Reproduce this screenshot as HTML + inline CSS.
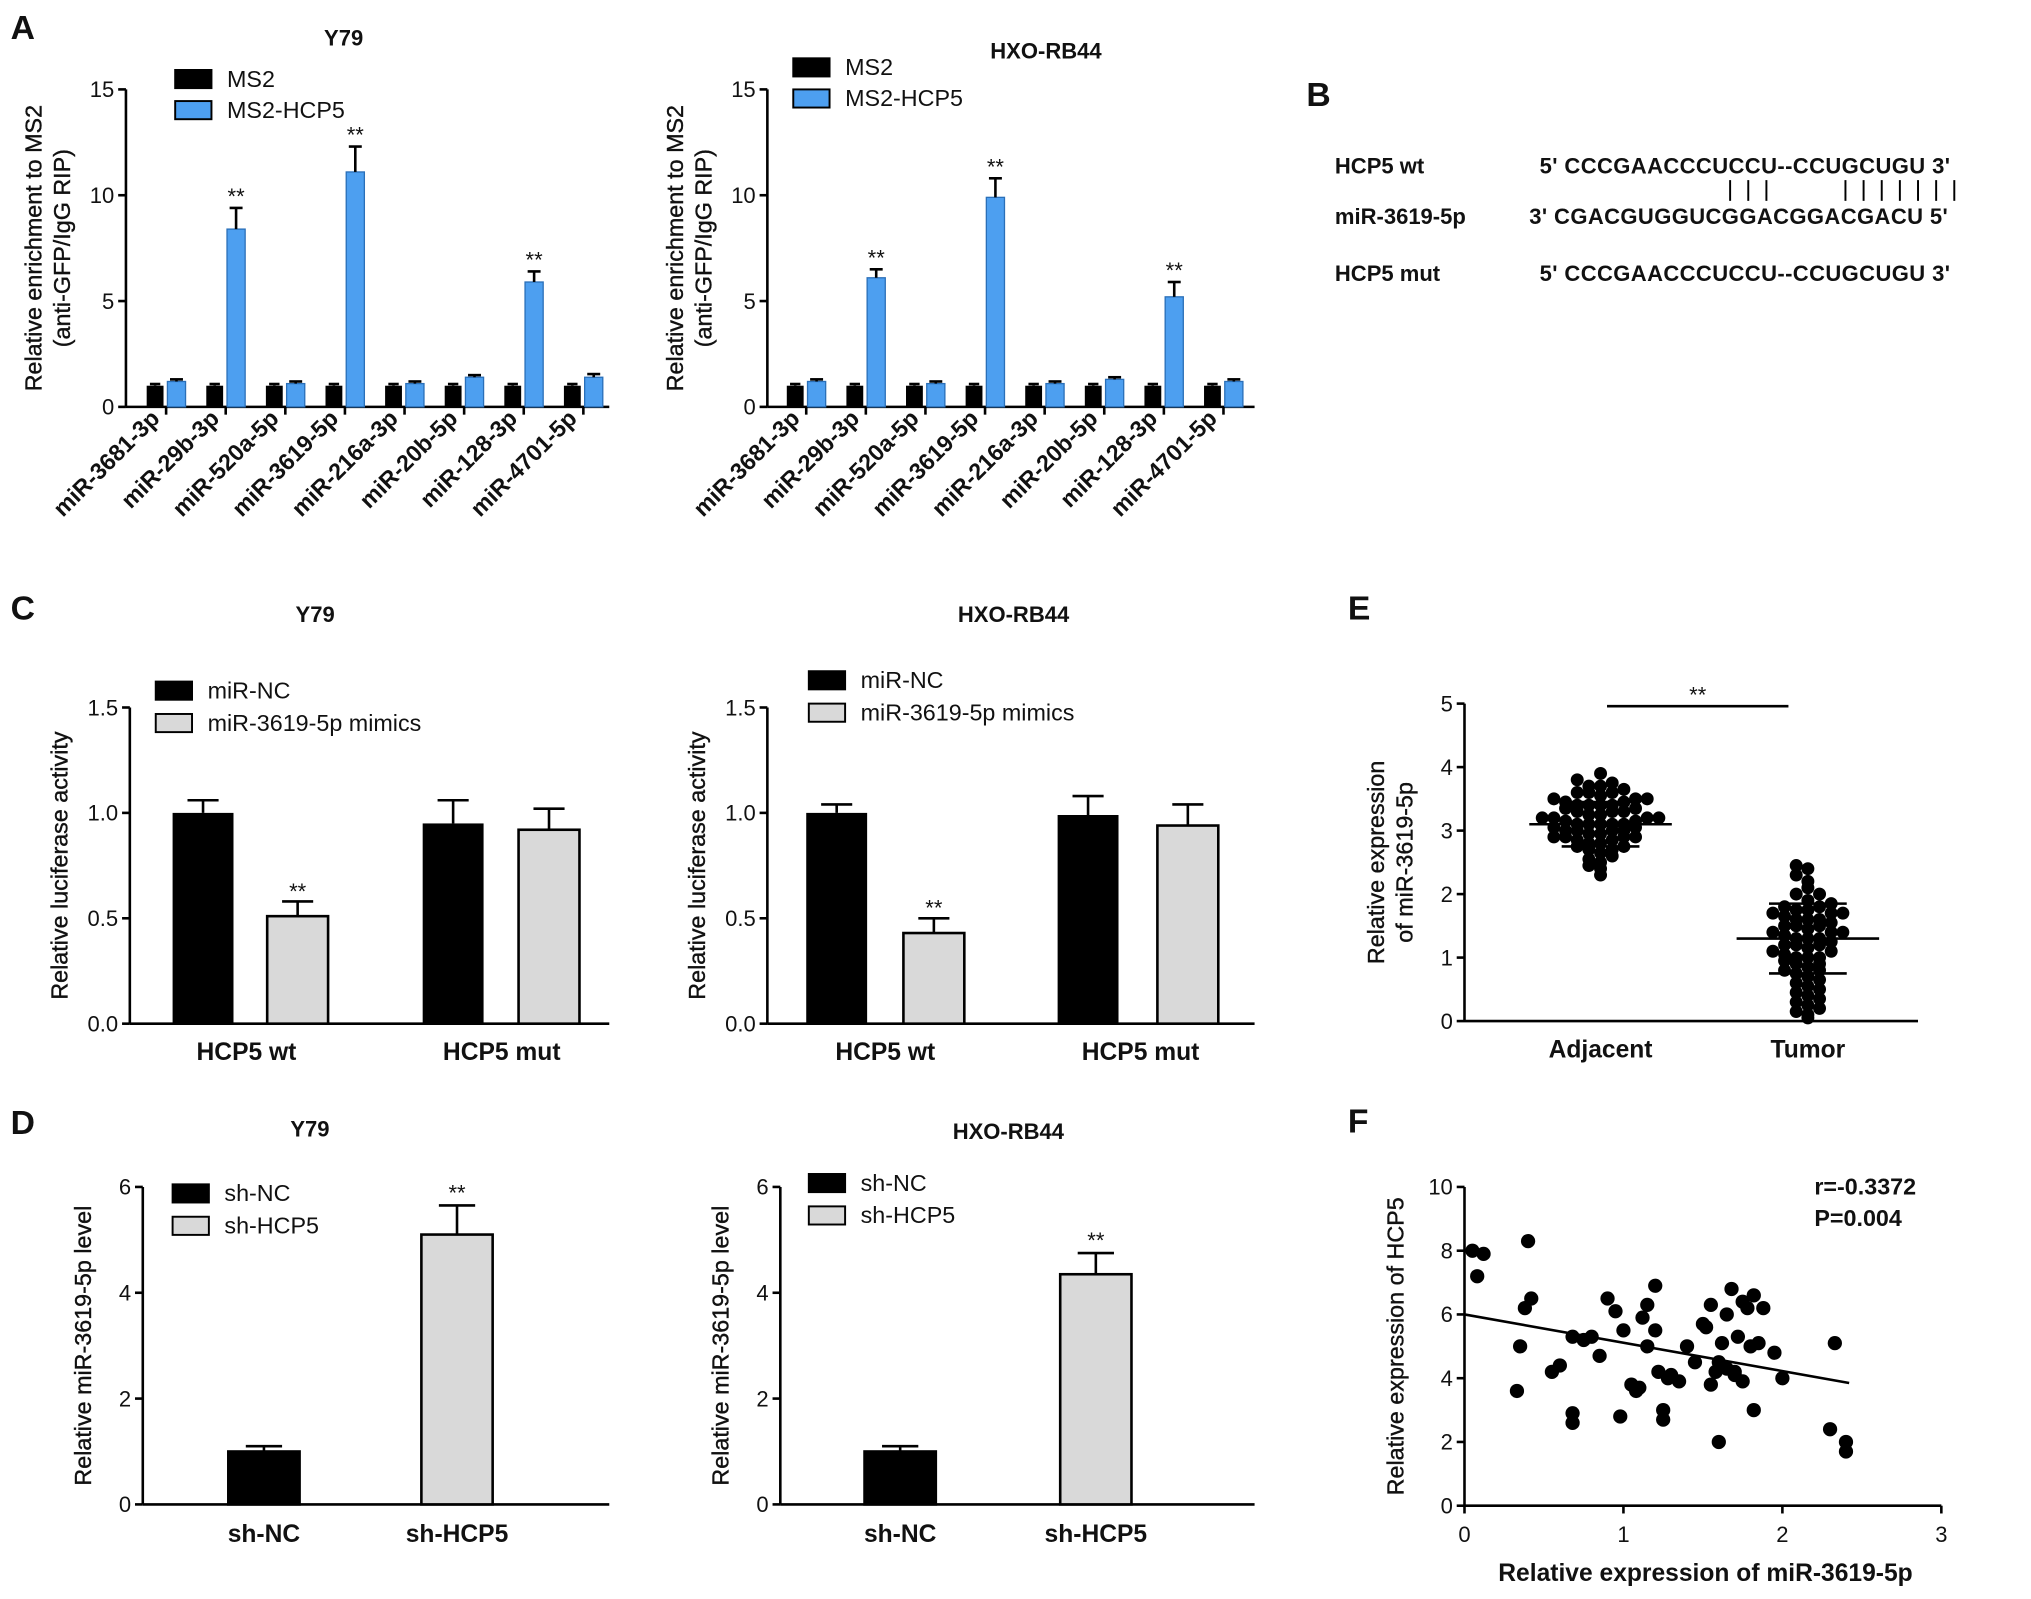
<!DOCTYPE html>
<html><head><meta charset="utf-8"><style>
html,body{margin:0;padding:0;background:#fff;}
svg{display:block;font-family:"Liberation Sans",Arial,sans-serif;}
</style></head><body>
<svg id="fig" width="2031" height="1599" viewBox="0 0 1567 1234" xmlns="http://www.w3.org/2000/svg"></svg>
<script>
// ---------- DATA ----------
const mirCats = ["miR-3681-3p","miR-29b-3p","miR-520a-5p","miR-3619-5p","miR-216a-3p","miR-20b-5p","miR-128-3p","miR-4701-5p"];
const aY79Ms2 = [1,1,1,1,1,1,1,1];
const aY79Hcp5 = [1.2,8.4,1.1,11.1,1.1,1.4,5.9,1.4];
const aY79Err = [0.1,1.0,0.1,1.2,0.1,0.1,0.5,0.15];
const aHxoMs2 = [1,1,1,1,1,1,1,1];
const aHxoHcp5 = [1.2,6.1,1.1,9.9,1.1,1.3,5.2,1.2];
const aHxoErr = [0.1,0.4,0.1,0.9,0.1,0.1,0.7,0.1];
const aSig = [false,true,false,true,false,false,true,false];
const aTicks = [0,5,10,15];

const lucCats = ["HCP5 wt","HCP5 mut"];
const cY79Nc = [1.0,0.95];
const cY79Mim = [0.51,0.92];
const cY79NcErr = [0.06,0.11];
const cY79MimErr = [0.07,0.10];
const cHxoNc = [1.0,0.99];
const cHxoMim = [0.43,0.94];
const cHxoNcErr = [0.04,0.09];
const cHxoMimErr = [0.07,0.10];
const cTicks = [0.0,0.5,1.0,1.5];

const shCats = ["sh-NC","sh-HCP5"];
const dY79 = [1.0,5.1];
const dY79Err = [0.1,0.55];
const dHxo = [1.0,4.35];
const dHxoErr = [0.1,0.4];
const dTicks = [0,2,4,6];

const eAdjacent = [3.9,3.8,3.75,3.7,3.7,3.65,3.6,3.6,3.55,3.5,3.5,3.5,3.45,3.45,3.4,3.4,3.4,3.35,3.35,3.3,3.3,3.3,3.25,3.25,3.2,3.2,3.2,3.15,3.15,3.1,3.1,3.1,3.1,3.05,3.05,3.0,3.0,3.0,2.95,2.95,2.9,2.9,2.9,2.85,2.85,2.8,2.8,2.75,2.75,2.7,2.7,2.65,2.6,2.55,2.5,2.45,2.4,2.3,3.6,3.0,3.2,2.9,3.4,3.1];
const eTumor = [2.45,2.4,2.3,2.2,2.1,2.0,1.9,1.85,1.8,1.8,1.75,1.7,1.7,1.65,1.6,1.6,1.55,1.5,1.5,1.45,1.4,1.4,1.35,1.3,1.3,1.25,1.2,1.2,1.15,1.1,1.1,1.05,1.0,1.0,0.95,0.9,0.85,0.8,0.8,0.75,0.7,0.65,0.6,0.55,0.5,0.45,0.4,0.35,0.3,0.25,0.2,0.15,0.1,0.05,1.7,1.5,1.3,1.0,0.9,1.6,1.75,2.0,1.4,1.2];
const eMeans = [3.1,1.3];
const eSd = [0.35,0.55];
const eTicks = [0,1,2,3,4,5];

const fX = [0.05,0.12,0.08,0.4,0.42,0.38,0.35,0.33,0.55,0.6,0.68,0.68,0.68,0.8,0.85,0.9,0.95,0.98,1.0,1.05,1.08,1.1,1.12,1.15,1.15,1.2,1.2,1.22,1.25,1.25,1.28,1.3,1.35,1.4,1.45,1.5,1.52,1.55,1.55,1.58,1.6,1.6,1.62,1.65,1.65,1.68,1.7,1.7,1.72,1.75,1.75,1.78,1.8,1.82,1.82,1.85,1.88,1.95,2.0,2.3,2.33,2.4,2.4,0.75];
const fY = [8.0,7.9,7.2,8.3,6.5,6.2,5.0,3.6,4.2,4.4,5.3,2.9,2.6,5.3,4.7,6.5,6.1,2.8,5.5,3.8,3.6,3.7,5.9,6.3,5.0,6.9,5.5,4.2,3.0,2.7,4.0,4.1,3.9,5.0,4.5,5.7,5.6,3.8,6.3,4.2,4.5,2.0,5.1,6.0,4.3,6.8,4.1,4.2,5.3,6.4,3.9,6.2,5.0,6.6,3.0,5.1,6.2,4.8,4.0,2.4,5.1,2.0,1.7,5.2];
const fFit = [6.0,3.85]; // y at x=0 and x=2.42
const fXTicks = [0,1,2,3];
const fYTicks = [0,2,4,6,8,10];

// ---------- HELPERS ----------
const svg = document.getElementById('fig');
const NS = "http://www.w3.org/2000/svg";
function el(tag, attrs, parent){
  const e = document.createElementNS(NS, tag);
  for (const k in attrs) e.setAttribute(k, attrs[k]);
  (parent||svg).appendChild(e);
  return e;
}
function txt(s, x, y, size, opts, parent){
  const t = el('text', Object.assign({x:x, y:y, 'font-size':size, fill:'#111'}, opts||{}), parent);
  t.textContent = s;
  return t;
}
function group(name){
  const g = el('g', {});
  
  
  return g;
}
function lin(v0, v1, p0, p1){ return v => p0 + (v - v0) * (p1 - p0) / (v1 - v0); }

function yAxis(g, x, yTop, yBot, ticks, scale, fmt, titleLines, titleX){
  el('line', {x1:x, y1:yTop, x2:x, y2:yBot, stroke:'#000', 'stroke-width':2}, g);
  ticks.forEach(t => {
    const y = scale(t);
    el('line', {x1:x-6, y1:y, x2:x, y2:y, stroke:'#000', 'stroke-width':2}, g);
    const l = txt(fmt(t), x-9, y+6, 17, {'text-anchor':'end'}, g);
    
    
  });
  const cy = (yTop + yBot) / 2;
  titleLines.forEach((s, i) => {
    const tt = txt(s, titleX + i*22, cy, 18, {'text-anchor':'middle', 'stroke':'#111', 'stroke-width':0.3, transform:`rotate(-90 ${titleX + i*22} ${cy})`}, g);
    
    
  });
}
function errBar(g, cx, yTop, yVal, half){
  el('line', {x1:cx, y1:yVal, x2:cx, y2:yTop, stroke:'#000', 'stroke-width':2}, g);
  el('line', {x1:cx-half, y1:yTop, x2:cx+half, y2:yTop, stroke:'#000', 'stroke-width':2}, g);
}
function legendEntry(g, x, y, fill, label, w, h){
  const r = el('rect', {x:x, y:y-h+3, width:w, height:h, fill:fill, stroke:'#000', 'stroke-width':1.5}, g);
  
  
  const t = txt(label, x + w + 12, y + 2, 18, {}, g);
  
  
}
function panelLetter(s, x, y){
  const t = txt(s, x, y, 26, {'font-weight':'bold'});
  
  
}

// ---------- PANEL A ----------
function panelA(name, axX, xEnd, firstC, title, titleX, titleY, ms2, hcp, err, legX, legY){
  const g = group(name);
  const y = lin(0, 15, 314, 69);
  const step = 46;
  yAxis(g, axX, 69, 314, aTicks, y, v => String(v), ["Relative enrichment to MS2","(anti-GFP/IgG RIP)"], axX-65);
  el('line', {x1:axX, y1:314, x2:xEnd, y2:314, stroke:'#000', 'stroke-width':2}, g);
  const tt = txt(title, titleX, titleY, 17, {'font-weight':'bold', 'text-anchor':'middle'}, g);
  
  
  mirCats.forEach((c, i) => {
    const cx = firstC + i*step;
    const b1 = el('rect', {x:cx-15, y:y(ms2[i]), width:13, height:314-y(ms2[i]), fill:'#000'}, g);
    
    
    errBar(g, cx-8.5, y(ms2[i]+0.08), y(ms2[i]), 4);
    const b2 = el('rect', {x:cx+1, y:y(hcp[i]), width:14, height:314-y(hcp[i]), fill:'#4d9ff0', stroke:'#2a6fb8', 'stroke-width':1}, g);
    
    
    errBar(g, cx+8, y(hcp[i]+err[i]), y(hcp[i]), 5);
    if (aSig[i]) txt('**', cx+8, y(hcp[i]+err[i]) - 3, 17, {'text-anchor':'middle'}, g);
    el('line', {x1:cx, y1:314, x2:cx, y2:320, stroke:'#000', 'stroke-width':2}, g);
    const lx = cx - 4, ly = 324;
    const l = txt(c, lx, ly, 18, {'font-weight':'bold', 'text-anchor':'end', transform:`rotate(-45 ${lx} ${ly})`}, g);
    
    
  });
  legendEntry(g, legX, legY, '#000', 'MS2', 28, 14);
  legendEntry(g, legX, legY+24, '#4d9ff0', 'MS2-HCP5', 28, 14);
}
panelLetter('A', 8, 30);
panelA('chart-a-y79', 97, 470, 128, 'Y79', 265, 35, aY79Ms2, aY79Hcp5, aY79Err, 135, 65);
panelA('chart-a-hxo', 592, 968, 622, 'HXO-RB44', 807, 45, aHxoMs2, aHxoHcp5, aHxoErr, 612, 56);

// ---------- PANEL B ----------
panelLetter('B', 1008, 82);
(function(){
  const g = group('sequence-alignment');
  const rows = [["HCP5 wt",134,"5' CCCGAACCCUCCU--CCUGCUGU 3'",1188],["miR-3619-5p",173,"3' CGACGUGGUCGGACGGACGACU 5'",1180],["HCP5 mut",217,"5' CCCGAACCCUCCU--CCUGCUGU 3'",1188]];
  rows.forEach(r => {
    txt(r[0], 1030, r[1], 17, {'font-weight':'bold'}, g);
    txt(r[2], r[3], r[1], 17, {'font-weight':'bold', 'letter-spacing':'0.3'}, g);
  });
  [1335,1349,1363,1424,1438,1452,1466,1480,1494,1508].forEach(x => el('line', {x1:x, y1:139, x2:x, y2:155, stroke:'#000', 'stroke-width':1.5}, g));
})();

// ---------- PANEL C ----------
function panelC(name, axX, xEnd, barXs, title, titleX, nc, mim, ncE, mimE, legX, legY, catXs){
  const g = group(name);
  const y = lin(0, 1.5, 790, 546);
  yAxis(g, axX, 546, 790, cTicks, y, v => v.toFixed(1), ["Relative luciferase activity"], axX-48);
  el('line', {x1:axX, y1:790, x2:xEnd, y2:790, stroke:'#000', 'stroke-width':2}, g);
  const tt = txt(title, titleX, 480, 17, {'font-weight':'bold', 'text-anchor':'middle'}, g);
  
  
  lucCats.forEach((c, i) => {
    const x1 = barXs[i][0], x2 = barXs[i][1];
    const b1 = el('rect', {x:x1, y:y(nc[i]), width:47, height:790-y(nc[i]), fill:'#000'}, g);
    
    
    errBar(g, x1+23.5, y(nc[i]+ncE[i]), y(nc[i]), 12);
    const b2 = el('rect', {x:x2, y:y(mim[i]), width:47, height:790-y(mim[i]), fill:'#d9d9d9', stroke:'#000', 'stroke-width':2}, g);
    
    
    errBar(g, x2+23.5, y(mim[i]+mimE[i]), y(mim[i]), 12);
    if (i === 0) txt('**', x2+23.5, y(mim[i]+mimE[i]) - 2, 17, {'text-anchor':'middle'}, g);
    const l = txt(c, catXs[i], 818, 19, {'font-weight':'bold', 'text-anchor':'middle'}, g);
    
    
  });
  legendEntry(g, legX, legY, '#000', 'miR-NC', 28, 14);
  legendEntry(g, legX, legY+25, '#d9d9d9', 'miR-3619-5p mimics', 28, 14);
}
panelLetter('C', 8, 478);
panelC('chart-c-y79', 100, 470, [[133,206],[326,400]], 'Y79', 243, cY79Nc, cY79Mim, cY79NcErr, cY79MimErr, 120, 537, [190,387]);
panelC('chart-c-hxo', 592, 968, [[622,697],[816,893]], 'HXO-RB44', 782, cHxoNc, cHxoMim, cHxoNcErr, cHxoMimErr, 624, 529, [683,880]);

// ---------- PANEL D ----------
function panelD(name, axX, xEnd, barXs, title, titleX, titleY, vals, errs, legX, legY){
  const g = group(name);
  const y = lin(0, 6, 1161, 916);
  yAxis(g, axX, 916, 1161, dTicks, y, v => String(v), ["Relative miR-3619-5p level"], axX-40);
  el('line', {x1:axX, y1:1161, x2:xEnd, y2:1161, stroke:'#000', 'stroke-width':2}, g);
  const tt = txt(title, titleX, titleY, 17, {'font-weight':'bold', 'text-anchor':'middle'}, g);
  
  
  shCats.forEach((c, i) => {
    const x = barXs[i];
    const b = el('rect', {x:x, y:y(vals[i]), width:55, height:1161-y(vals[i]), fill: i===0 ? '#000' : '#d9d9d9', stroke:'#000', 'stroke-width':2}, g);
    
    
    errBar(g, x+27.5, y(vals[i]+errs[i]), y(vals[i]), 14);
    if (i === 1) txt('**', x+27.5, y(vals[i]+errs[i]) - 4, 17, {'text-anchor':'middle'}, g);
    const l = txt(c, x+27.5, 1190, 19, {'font-weight':'bold', 'text-anchor':'middle'}, g);
    
    
  });
  legendEntry(g, legX, legY, '#000', 'sh-NC', 28, 14);
  legendEntry(g, legX, legY+25, '#d9d9d9', 'sh-HCP5', 28, 14);
}
panelLetter('D', 8, 875);
panelD('chart-d-y79', 110, 470, [176,325], 'Y79', 239, 877, dY79, dY79Err, 133, 925);
panelD('chart-d-hxo', 602, 968, [667,818], 'HXO-RB44', 778, 879, dHxo, dHxoErr, 624, 917);

// ---------- PANEL E ----------
panelLetter('E', 1040, 478);
(function(){
  const g = group('chart-e-scatter');
  const y = lin(0, 5, 788, 543);
  yAxis(g, 1130, 543, 788, eTicks, y, v => String(v), ["Relative expression","of miR-3619-5p"], 1068);
  el('line', {x1:1130, y1:788, x2:1480, y2:788, stroke:'#000', 'stroke-width':2}, g);
  const centers = [1235, 1395];
  const labels = ["Adjacent","Tumor"];
  [eAdjacent, eTumor].forEach((arr, gi) => {
    const sorted = arr.slice().sort((a,b)=>a-b);
    const bins = {};
    sorted.forEach(v => {
      const key = Math.round(v / 0.15);
      bins[key] = (bins[key] || 0) + 1;
      const n = bins[key] - 1;
      const off = (n % 2 === 0 ? 1 : -1) * Math.ceil(n / 2) * 9;
      const c = el('circle', {cx:centers[gi] + off, cy:y(v), r:5, fill:'#000'}, g);
      
      
    });
    const m = eMeans[gi], s = eSd[gi], cx = centers[gi];
    el('line', {x1:cx-55, y1:y(m), x2:cx+55, y2:y(m), stroke:'#000', 'stroke-width':2}, g);
    el('line', {x1:cx, y1:y(m-s), x2:cx, y2:y(m+s), stroke:'#000', 'stroke-width':2}, g);
    el('line', {x1:cx-30, y1:y(m+s), x2:cx+30, y2:y(m+s), stroke:'#000', 'stroke-width':2}, g);
    el('line', {x1:cx-30, y1:y(m-s), x2:cx+30, y2:y(m-s), stroke:'#000', 'stroke-width':2}, g);
    const l = txt(labels[gi], cx, 816, 19, {'font-weight':'bold', 'text-anchor':'middle'}, g);
    
    
  });
  el('line', {x1:1240, y1:545, x2:1380, y2:545, stroke:'#000', 'stroke-width':2}, g);
  txt('**', 1310, 542, 17, {'text-anchor':'middle'}, g);
})();

// ---------- PANEL F ----------
panelLetter('F', 1040, 874);
(function(){
  const g = group('chart-f-correlation');
  const x = lin(0, 3, 1130, 1498);
  const y = lin(0, 10, 1162, 916);
  yAxis(g, 1130, 916, 1162, fYTicks, y, v => String(v), ["Relative expression of HCP5"], 1083);
  el('line', {x1:1130, y1:1162, x2:1498, y2:1162, stroke:'#000', 'stroke-width':2}, g);
  fXTicks.forEach(t => {
    el('line', {x1:x(t), y1:1162, x2:x(t), y2:1168, stroke:'#000', 'stroke-width':2}, g);
    const l = txt(String(t), x(t), 1190, 17, {'text-anchor':'middle'}, g);
    
    
  });
  const xt = txt('Relative expression of miR-3619-5p', 1316, 1220, 19, {'font-weight':'bold', 'text-anchor':'middle'}, g);
  
  
  fX.forEach((v, i) => {
    const c = el('circle', {cx:x(v), cy:y(fY[i]), r:5.5, fill:'#000'}, g);
    
    
  });
  const fl = el('line', {x1:x(0), y1:y(fFit[0]), x2:x(2.42), y2:y(fFit[1]), stroke:'#000', 'stroke-width':2}, g);
  
  
  txt('r=-0.3372', 1400, 922, 18, {'font-weight':'bold'}, g);
  txt('P=0.004', 1400, 946, 18, {'font-weight':'bold'}, g);
})();
</script>
</body></html>
